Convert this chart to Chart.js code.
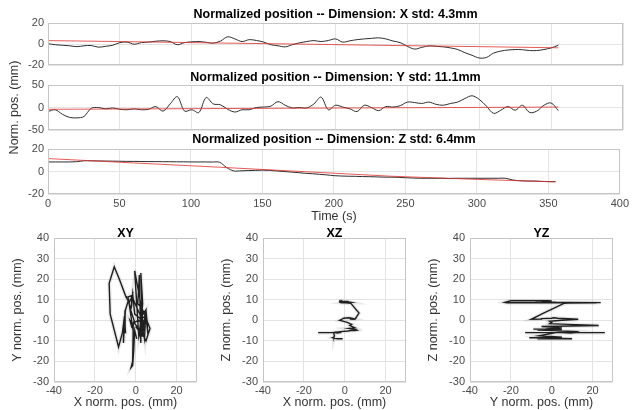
<!DOCTYPE html>
<html>
<head>
<meta charset="utf-8">
<script src="https://cdn.jsdelivr.net/npm/chart.js@4.4.1/dist/chart.umd.min.js"></script>
<style>
  body { margin: 0; background: #fff; }
  #wrap { position: relative; width: 632px; height: 410px; overflow: hidden; }
  #wrap canvas { position: absolute; }
</style>
</head>
<body>
<div id="wrap">
  <canvas id="c_x" width="632" height="76" style="left:0;top:0"></canvas>
  <canvas id="c_y" width="632" height="140" style="left:0;top:40px"></canvas>
  <canvas id="c_z" width="632" height="94" style="left:0;top:130px"></canvas>
  <canvas id="c_xy" width="205" height="185" style="left:0;top:225px"></canvas>
  <canvas id="c_xz" width="205" height="185" style="left:209px;top:225px"></canvas>
  <canvas id="c_yz" width="205" height="185" style="left:416px;top:225px"></canvas>
</div>
<script>
// sample times (s)
const timeSec = [
  0, 5, 10, 15, 20, 25, 30, 35, 40, 45,
  50, 55, 60, 65, 70, 75, 80, 85, 90, 95,
  100, 105, 110, 115, 120, 125, 130, 135, 140, 145,
  150, 155, 160, 165, 170, 175, 180, 185, 190, 195,
  200, 205, 210, 215, 220, 225, 230, 235, 240, 245,
  250, 255, 260, 265, 270, 275, 280, 285, 290, 295,
  300, 305, 310, 315, 320, 325, 330, 335, 340, 345,
  350, 355
];

// normalized position per dimension (mm)
const posX = [
  0.5, -0.5, -1, -1.5, -2.3, -1.5, -1.2, -2.8, -2, -1,
  1.5, 2, 0, 1.5, 2, 2.8, 3.2, 2.5, -0.5, 1.5,
  2.2, 2.5, 1.8, 1, 3, 7, 5, 2.5, 4.3, 3.5,
  2, -0.5, -1.5, -2.5, -0.5, 1.3, 2.5, 3.4, 2.5, 3.5,
  5, 2, 3.2, 4.3, 5, 5.5, 6, 5, 3, 1.5,
  -2, -4.6, -3, -1.6, -2, -2.5, -3.5, -5, -8, -10.5,
  -13, -12.5, -8.4, -6.5, -5.5, -5, -5.2, -6, -6, -5,
  -3.5, -1
];
const posY = [
  -9, -5, -15, -22, -23, -20, -2, 0, -3, -1,
  -4, -5, -3, -5, -4, 2, -8, 8, 24, -8,
  -5, -11, 22, 8, 6, -4, -10, -5, -5, 0,
  1, 3, 13, 5, -1, 0, -1, 8, 23, -5,
  5, 1, -3, -9, 5, 0, -7, 2, 1, 4,
  12, 11, 9, 12, 7, 5, 9, 12, 20, 26,
  18, 3, -13, -6, 2, -6, 5, -11, -8, 5,
  10, -7
];
const posZ = [
  8.5, 8.5, 8.5, 8.5, 8.7, 9.5, 9.5, 9.4, 9.3, 9.2,
  9.1, 9, 9, 8.9, 8.8, 8.8, 8.7, 8.7, 8.6, 8.6,
  8.5, 8.5, 8.5, 8.4, 8.2, 3.5, 0.5, 0.6, 0.8, 1,
  1.2, 1, 0.5, 0, -0.5, -1, -1.6, -2, -2.5, -3,
  -3.7, -4, -4.2, -4.3, -4.5, -4.6, -4.8, -5, -5, -5.2,
  -5.5, -5.8, -6, -6, -6, -6, -6.2, -6, -6, -6,
  -6, -6, -6, -6, -6, -7.5, -8.2, -8.5, -8.5, -8.8,
  -9, -9
];

// drift trend lines
const trendTime = [0, 60, 120, 180, 240, 300, 355];
const trendX = [3.4, 2.3, 1.1, 0, -1.2, -2.3, -3.4];
const trendY = [-4, -3.2, -2.3, -1.5, -0.6, 0.2, 1];
const trendZ = [11.5, 7.6, 3.8, -0.2, -4.2, -7, -9.2];

const stdMm = { X: 4.3, Y: 11.1, Z: 6.4 };

const FONT = '"Liberation Sans", Arial, Helvetica, sans-serif';
const gridColor = '#e3e3e3';
const tickColor = '#4a4a4a';
const labelColor = '#333';

Chart.defaults.font.family = FONT;
Chart.defaults.font.size = 11;
Chart.defaults.animation = false;
Chart.defaults.plugins.legend.display = false;
Chart.defaults.plugins.tooltip.enabled = false;

// bold title centred over the plot area
const panelTitle = {
  id: 'panelTitle',
  afterDraw(chart, args, opts) {
    const a = chart.chartArea, ctx = chart.ctx;
    ctx.save();
    ctx.font = 'bold 12.5px ' + FONT;
    ctx.fillStyle = '#000';
    ctx.textAlign = 'center';
    ctx.textBaseline = 'middle';
    ctx.fillText(opts.text, (a.left + a.right) / 2, a.top - opts.gap);
    ctx.restore();
  }
};

// light frame around the axes
const axesBox = {
  id: 'axesBox',
  afterDatasetsDraw(chart) {
    const a = chart.chartArea, ctx = chart.ctx;
    ctx.save();
    ctx.strokeStyle = '#c6c6c6';
    ctx.lineWidth = 1;
    ctx.strokeRect(Math.round(a.left) + 0.5, Math.round(a.top) + 0.5,
      Math.round(a.right - a.left) - 1, Math.round(a.bottom - a.top) - 1);
    ctx.restore();
  }
};

function timePanel(id, dim, series, trend, lim, step, padTop, padBottom, gap, bottomAxis, yTitle) {
  new Chart(document.getElementById(id), {
    type: 'scatter',
    data: {
      datasets: [
        {
          data: trendTime.map((t, i) => ({ x: t, y: trend[i] })),
          showLine: true, pointRadius: 0,
          borderColor: 'rgba(225,50,45,0.8)', borderWidth: 1
        },
        {
          data: timeSec.map((t, i) => ({ x: t, y: series[i] })),
          showLine: true, pointRadius: 0, tension: 0.35,
          borderColor: '#2e2e2e', borderWidth: 1
        }
      ]
    },
    options: {
      responsive: false,
      layout: { padding: { top: padTop, right: 9, left: 0, bottom: padBottom } },
      plugins: {
        panelTitle: { text: 'Normalized position -- Dimension: ' + dim + ' std: ' + stdMm[dim] + 'mm', gap: gap }
      },
      scales: {
        x: {
          type: 'linear', min: 0, max: 400,
          border: { display: false },
          grid: { color: gridColor, drawTicks: false },
          ticks: { stepSize: 50, display: bottomAxis, padding: 3, color: tickColor },
          title: { display: bottomAxis, text: 'Time (s)', color: labelColor,
                   font: { size: 12.5 }, padding: { top: 0, bottom: 0 } },
          afterFit(s) { s.height = bottomAxis ? 30 : 8; }
        },
        y: {
          min: -lim, max: lim,
          border: { display: false },
          grid: { color: gridColor, drawTicks: false },
          ticks: { stepSize: step, padding: 4, color: tickColor },
          title: { display: !!yTitle, text: yTitle || '', color: labelColor,
                   font: { size: 12.5 }, padding: { top: 7.5, bottom: 0 } },
          afterFit(s) { s.width = 48; }
        }
      }
    },
    plugins: [panelTitle, axesBox]
  });
}

function planePanel(id, text, hs, vs, hTitle, vTitle) {
  const pts = hs.map((v, i) => ({ x: v, y: vs[i] }));
  new Chart(document.getElementById(id), {
    type: 'scatter',
    data: {
      datasets: [
        { data: pts, showLine: true, pointRadius: 0,
          borderColor: 'rgba(10,10,10,0.9)', borderWidth: 1.4 },
        { data: pts, showLine: true, pointRadius: 0,
          borderColor: 'rgba(0,0,0,0.09)', borderWidth: 4 }
      ]
    },
    options: {
      responsive: false,
      layout: { padding: { top: 13, right: 8, left: 0, bottom: 0 } },
      plugins: { panelTitle: { text: text, gap: 4 } },
      scales: {
        x: {
          min: -40, max: 30,
          border: { display: false },
          grid: { color: gridColor, drawTicks: false },
          ticks: { stepSize: 20, includeBounds: false, padding: 2, color: tickColor },
          title: { display: true, text: hTitle, color: labelColor,
                   font: { size: 12.5 }, padding: { top: 0, bottom: 0 } },
          afterFit(s) { s.height = 28; }
        },
        y: {
          min: -30, max: 40,
          border: { display: false },
          grid: { color: gridColor, drawTicks: false },
          ticks: { stepSize: 10, padding: 5, color: tickColor },
          title: { display: true, text: vTitle, color: labelColor,
                   font: { size: 12.5 }, padding: { top: 10.5, bottom: 0 } },
          afterFit(s) { s.width = 54; }
        }
      }
    },
    plugins: [panelTitle, axesBox]
  });
}

timePanel('c_x', 'X', posX, trendX, 20, 20, 23, 0, 8, false, null);
// taller canvas so the shared axis title is not clipped
timePanel('c_y', 'Y', posY, trendY, 50, 50, 45, 42, 7, false, 'Norm. pos. (mm)');
timePanel('c_z', 'Z', posZ, trendZ, 20, 20, 19, 0, 9, true, null);

planePanel('c_xy', 'XY', posX, posY, 'X norm. pos. (mm)', 'Y norm. pos. (mm)');
planePanel('c_xz', 'XZ', posX, posZ, 'X norm. pos. (mm)', 'Z norm. pos. (mm)');
planePanel('c_yz', 'YZ', posY, posZ, 'Y norm. pos. (mm)', 'Z norm. pos. (mm)');
</script>
</body>
</html>
